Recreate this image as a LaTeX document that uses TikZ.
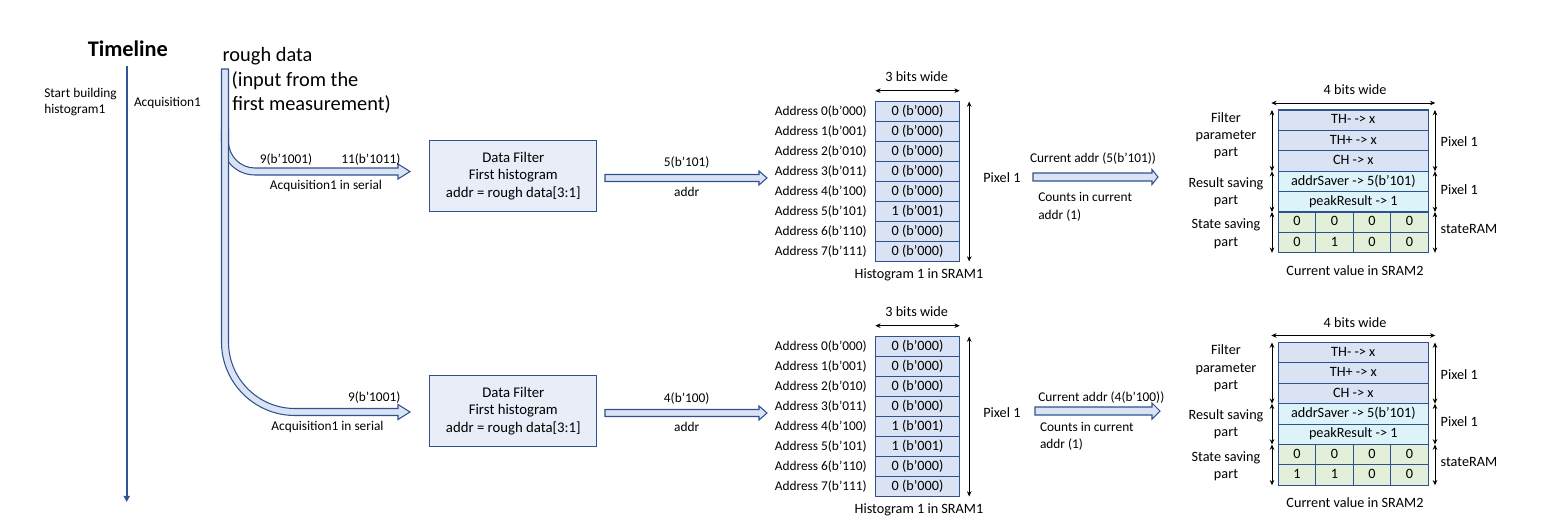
\documentclass[tikz,border=0pt]{standalone}
\usepackage{fontspec}
\setmainfont{Carlito}
\usetikzlibrary{arrows.meta,calc}

\definecolor{navy}{HTML}{2F528F}
\definecolor{timeblue}{HTML}{2F5597}
\definecolor{cellblue}{HTML}{DAE3F3}
\definecolor{boxblue}{HTML}{E8EDF7}
\definecolor{cellcyan}{HTML}{DDF3FA}
\definecolor{cellgreen}{HTML}{E2F0D9}

\tikzset{
  txt/.style={inner sep=0pt, outer sep=0pt, font=\fontsize{7.6}{9.2}\selectfont, text height=5.6pt, text depth=1.6pt},
  txtm/.style={inner sep=0pt, outer sep=0pt, font=\fontsize{8.1}{9.9}\selectfont, text height=6pt, text depth=1.8pt},
  txtbig/.style={inner sep=0pt, outer sep=0pt, font=\fontsize{11.6}{14}\selectfont, text height=8.5pt, text depth=2.4pt},
  multi/.style={inner sep=0pt, outer sep=0pt, align=center, font=\fontsize{8.1}{9.9}\selectfont},
  cellbase/.style={draw=navy, line width=0.6pt, inner sep=0pt, outer sep=0pt, font=\fontsize{8.1}{9.9}\selectfont, text height=6pt, text depth=1.8pt},
  histcell/.style={cellbase, fill=cellblue, minimum width=84.4*0.02cm, minimum height=20*0.02cm},
  paramcell/.style={cellbase, fill=cellblue, minimum width=150*0.02cm, minimum height=20.4*0.02cm},
  resultcell/.style={paramcell, fill=cellcyan},
  statecell/.style={cellbase, fill=cellgreen, minimum width=37.5*0.02cm, minimum height=20.4*0.02cm},
  filterbox/.style={draw=navy, fill=boxblue, line width=0.6pt, inner sep=0pt, outer sep=0pt, minimum width=166.7*0.02cm, minimum height=70.3*0.02cm, align=center, font=\fontsize{8.4}{10}\selectfont},
  dim/.style={line width=0.5pt, {Stealth[length=3pt,width=2.6pt]}-{Stealth[length=3pt,width=2.6pt]}},
  pipe/.style={draw=navy, fill=cellblue, line width=0.6pt},
  blockarrow/.style={draw=navy, fill=cellblue, line width=0.6pt},
  timeline/.style={draw=timeblue, line width=1.1pt, -{Triangle[length=3.5pt,width=3.5pt]}}
}

% Histogram memory (SRAM1): #1 name prefix, #2 top edge, #3 rows as bits/value
\newcommand{\histtable}[3]{%
  \foreach \bits/\val [count=\row from 0] in {#3} {
    \node[histcell] (#1r\row) at (917.5,{#2+10+20*\row}) {\val};
    \node[txt, anchor=east] (#1a\row) at (866.7,{#2+10+20*\row}) {Address \row(b’\bits)};
  }
  \node[txtm] (#1w) at (916.7,{#2-23.2}) {3 bits wide};
  \draw[dim] ($(#1r0.north west)+(0,-10.8)$) -- ($(#1r0.north east)+(0,-10.8)$);
  \draw[dim] ($(#1r0.north east)+(9.5,0)$) -- ($(#1r7.south east)+(9.5,0)$);
  \node[txtm, anchor=west] (#1p) at (983.3,{#2+77.5}) {Pixel 1};
  \node[txtm] (#1c) at (919,{#2+173.7}) {Histogram 1 in SRAM1};
}

% Pixel state memory (SRAM2): #1 name prefix, #2 top edge, #3 lower state row
\newcommand{\sramtable}[3]{%
  \foreach \lab [count=\row from 0] in {TH- -> x, TH+ -> x, CH -> x}
    \node[paramcell] (#1f\row) at (1353.3,{#2+10.2+20.4*\row}) {\lab};
  \node[resultcell] (#1s0) at (1353.3,{#2+10.2+20.4*3}) {addrSaver -> 5(b’101)};
  \node[resultcell] (#1s1) at (1353.3,{#2+10.2+20.4*4}) {peakResult -> 1};
  \foreach \col in {0,1,2,3}
    \node[statecell] (#1u\col) at ({1297.05+37.5*\col},{#2+10.2+20.4*5}) {0};
  \foreach \val [count=\col from 0] in {#3}
    \node[statecell] (#1l\col) at ({1297.05+37.5*\col},{#2+10.2+20.4*6}) {\val};
  % width and section markers
  \node[txtm] (#1w) at (1355,{#2-19}) {4 bits wide};
  \draw[dim] ($(#1f0.north west)+(-7,-7)$) -- ($(#1f0.north east)+(7,-7)$);
  \draw[dim] ($(#1f0.north west)+(-6.3,0)$) -- ($(#1f2.south west)+(-6.3,0)$);
  \draw[dim] ($(#1s0.north west)+(-6.3,0)$) -- ($(#1s1.south west)+(-6.3,0)$);
  \draw[dim] ($(#1u0.north west)+(-6.3,0)$) -- ($(#1l0.south west)+(-6.3,0)$);
  \draw[dim] ($(#1f0.north east)+(6.7,0)$) -- ($(#1f2.south east)+(6.7,0)$);
  \draw[dim] ($(#1s0.north east)+(6.7,0)$) -- ($(#1s1.south east)+(6.7,0)$);
  \draw[dim] ($(#1u3.north east)+(6.7,0)$) -- ($(#1l3.south east)+(6.7,0)$);
  \node[multi] (#1lf) at (1226,{#2+25.8}) {Filter\\parameter\\part};
  \node[multi] (#1lr) at (1226,{#2+82}) {Result saving\\part};
  \node[multi] (#1ls) at (1226,{#2+123.6}) {State saving\\part};
  \node[txtm, anchor=west] (#1p1) at (1440.7,{#2+33.3}) {Pixel 1};
  \node[txtm, anchor=west] (#1p2) at (1440.7,{#2+80.7}) {Pixel 1};
  \node[txtm, anchor=west] (#1p3) at (1440.7,{#2+120}) {stateRAM};
  \node[txtm] (#1c) at (1355,{#2+161.7}) {Current value in SRAM2};
}

\begin{document}
\begin{tikzpicture}[x=0.02cm, y=-0.02cm]
\useasboundingbox (0,0) rectangle (1560,531);

% ---- timeline ----
\node[inner sep=0pt, font=\bfseries\fontsize{12.7}{15}\selectfont, text height=8.5pt, text depth=0pt] (title) at (127.8,48.8) {Timeline};
\coordinate (tltop) at (126.7,66);
\coordinate (tlend) at (126.7,502);
\draw[timeline] (tltop) -- (tlend);
\node[txt, anchor=west] (sb1) at (44.3,94) {Start building};
\node[txt, anchor=west] (sb2) at (44.3,110) {histogram1};
\node[txt, anchor=west] (acq) at (134,102.7) {Acquisition1};

% ---- rough data stream ----
\node[txtbig, anchor=west] (rd1) at (222.7,56) {rough data};
\node[txtbig, anchor=west] (rd2) at (231.7,80.7) {(input from the};
\node[txtbig, anchor=west] (rd3) at (232.3,105) {first measurement)};

% upper branch (its root is hidden under the main stream)
\draw[pipe] (228.5,130) -- (228.5,141.5)
  .. controls (228.5,156.14) and (240.36,168) .. (255,168)
  -- (398,168) -- (398,164) -- (410,171.5) -- (398,179) -- (398,175) -- (255,175)
  .. controls (236.5,175) and (221.5,160) .. (221.5,141.5) -- (221.5,130) -- cycle;
% main stream bending into the lower branch
\draw[pipe] (221.5,69) -- (221.5,342)
  .. controls (221.5,382.6) and (254.4,415.5) .. (295,415.5)
  -- (398,415.5) -- (398,419.5) -- (410,412) -- (398,404.5) -- (398,408.5) -- (295,408.5)
  .. controls (258.27,408.5) and (228.5,378.73) .. (228.5,342) -- (228.5,69) -- cycle;

\node[txt] (a9) at (286,160) {9(b’1001)};
\node[txt] (a11) at (370.9,160) {11(b’1011)};
\node[txt] (aser) at (326,186) {Acquisition1 in serial};
\node[txt] (b9) at (374.2,398.3) {9(b’1001)};
\node[txt] (bser) at (327.5,426.7) {Acquisition1 in serial};

% ---- data filters ----
\node[filterbox] (df1) at (513.3,175.9) {Data Filter\\First histogram\\addr = rough data[3:1]};
\node[filterbox] (df2) at (513.3,410.9) {Data Filter\\First histogram\\addr = rough data[3:1]};

% ---- address arrows ----
\draw[blockarrow] (605,174.5) -- (759,174.5) -- (759,171) -- (767,178) -- (759,185) -- (759,181.5) -- (605,181.5) -- cycle;
\node[txt] (ad1) at (686.7,163) {5(b’101)};
\node[txt] (al1) at (686.7,193) {addr};
\draw[blockarrow] (605,409.5) -- (759,409.5) -- (759,406) -- (767,413) -- (759,420) -- (759,416.5) -- (605,416.5) -- cycle;
\node[txt] (ad2) at (686.7,399) {4(b’100)};
\node[txt] (al2) at (686.7,427.5) {addr};

% ---- SRAM1 histograms ----
\histtable{ha}{101.5}{000/0 (b’000), 001/0 (b’000), 010/0 (b’000), 011/0 (b’000), 100/0 (b’000), 101/1 (b’001), 110/0 (b’000), 111/0 (b’000)}
\histtable{hb}{336.5}{000/0 (b’000), 001/0 (b’000), 010/0 (b’000), 011/0 (b’000), 100/1 (b’001), 101/1 (b’001), 110/0 (b’000), 111/0 (b’000)}

% ---- current address arrows ----
\draw[blockarrow] (1033,173) -- (1152,173) -- (1152,169.5) -- (1158,177) -- (1152,184.5) -- (1152,181) -- (1033,181) -- cycle;
\node[txt, anchor=west] (ca1) at (1030,159.3) {Current addr (5(b’101))};
\node[txt, anchor=west] (cc1) at (1038.3,198.3) {Counts in current};
\node[txt, anchor=west] (cd1) at (1038.3,215.7) {addr (1)};
\draw[blockarrow] (1035,407) -- (1152,407) -- (1152,403) -- (1160,411) -- (1152,419) -- (1152,415) -- (1035,415) -- cycle;
\node[txt, anchor=west] (ca2) at (1038.3,398.3) {Current addr (4(b’100))};
\node[txt, anchor=west] (cc2) at (1040,427.7) {Counts in current};
\node[txt, anchor=west] (cd2) at (1040,445) {addr (1)};

% ---- SRAM2 contents ----
\sramtable{sa}{110}{0,1,0,0}
\sramtable{sb}{342.5}{1,1,0,0}

\end{tikzpicture}
\end{document}
